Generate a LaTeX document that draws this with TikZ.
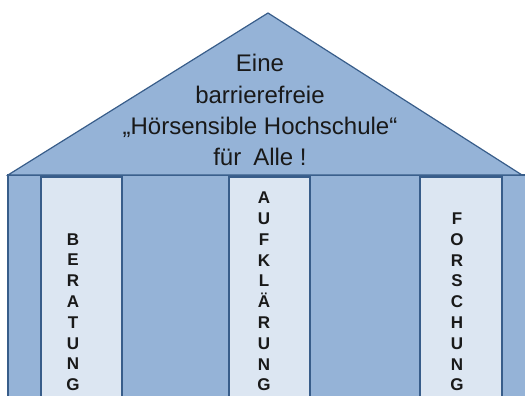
\documentclass[tikz,border=0pt]{standalone}
\usepackage{fontspec}
\setmainfont{Liberation Sans}
\usetikzlibrary{positioning}

\definecolor{roofblue}{HTML}{95B3D7}
\definecolor{pillarblue}{HTML}{DCE6F2}
\definecolor{edgeblue}{HTML}{385D8A}

\tikzset{
    part/.style={draw=edgeblue, line width=1.2pt, line join=miter},
    rooftext/.style={font=\fontsize{24}{31}\selectfont, text=black!90, inner sep=0pt, anchor=base},
    pillartext/.style={font=\fontsize{17}{21}\selectfont\bfseries, text=black!90, inner sep=0pt, anchor=base}
}

\begin{document}
\begin{tikzpicture}[x=1pt, y=-1pt]
    \def\wallTop{175}
    \def\pillarTop{177}
    \def\wallBottom{420}
    \def\lineGap{31}
    \def\letterGap{20.8}

    \useasboundingbox (0, 0) rectangle (525, 396);
    \clip (0, 0) rectangle (525, 396);

    % Draw wall
    \draw[part, fill=roofblue] (8, \wallTop) rectangle (528, \wallBottom);

    % Draw pillars
    \foreach \l/\r in {41/122, 229/310, 420/502} {
        \draw[part, fill=pillarblue] (\l, \pillarTop) rectangle (\r, \wallBottom);
    }

    % Draw roof
    \draw[part, fill=roofblue] (8, \wallTop) -- (268, 13) -- (522, \wallTop) -- cycle;

    % Label roof
    \foreach[count=\i] \t in {Eine, barrierefreie, „Hörsensible Hochschule“, für\enspace Alle !} {
        \node[rooftext] (roof\i) at (260, {72 + (\i - 1) * \lineGap}) {\t};
    }

    % Label pillars, one letter per line
    \foreach[count=\i] \c in {B,E,R,A,T,U,N,G} {
        \node[pillartext] (ber\i) at (73, {245 + (\i - 1) * \letterGap}) {\c};
    }
    \foreach[count=\i] \c in {A,U,F,K,L,Ä,R,U,N,G} {
        \node[pillartext] (auf\i) at (264, {203.6 + (\i - 1) * \letterGap}) {\c};
    }
    \foreach[count=\i] \c in {F,O,R,S,C,H,U,N,G} {
        \node[pillartext] (for\i) at (457, {224.4 + (\i - 1) * \letterGap}) {\c};
    }
\end{tikzpicture}
\end{document}
